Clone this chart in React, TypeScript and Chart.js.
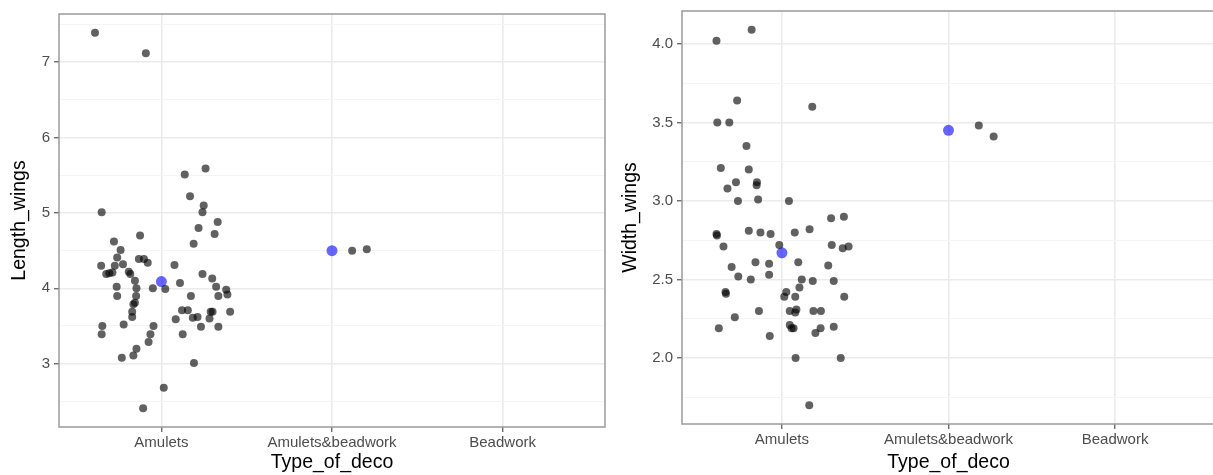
import React, { useEffect, useRef } from "react";
import { Chart, registerables } from "chart.js";

Chart.register(...registerables);

// ---------- DATA ----------
const categories = ["Amulets", "Amulets&beadwork", "Beadwork"];

// Left panel: Length_wings (jitter offset around category, value)
const lengthAmuletsJitter = [
  -0.389, -0.091, -0.35, 0.137, 0.259, 0.168, 0.248, 0.241, 0.33, 0.218, 0.312, -0.125, 0.189, -0.278,
  -0.239, -0.259, -0.132, -0.102, -0.08, -0.353, -0.273, -0.225, 0.077, -0.323, -0.305, -0.287, -0.191,
  -0.182, -0.155, 0.241, 0.298, 0.109, -0.262, -0.146, -0.05, 0.023, 0.321, 0.38, 0.387, -0.259, -0.148,
  0.173, 0.334, -0.155, -0.164, 0.403, 0.121, 0.155, 0.289, 0.3, -0.171, -0.171, 0.184, 0.212, 0.084,
  0.282, -0.221, -0.346, -0.046, 0.232, 0.334, -0.35, 0.125, -0.064, -0.075, -0.146, -0.232, -0.164,
  0.191, 0.014, -0.107,
];
const lengthAmuletsValues = [
  7.39, 7.12, 5.01, 5.51, 5.59, 5.22, 5.1, 5.01, 4.88, 4.8, 4.72, 4.7, 4.59, 4.62,
  4.51, 4.41, 4.39, 4.39, 4.34, 4.3, 4.3, 4.32, 4.31, 4.19, 4.2, 4.21, 4.22,
  4.19, 4.1, 4.19, 4.13, 4.07, 4.02, 4.0, 4.0, 3.99, 4.02, 3.98, 3.92, 3.9, 3.9,
  3.9, 3.9, 3.81, 3.79, 3.69, 3.71, 3.71, 3.69, 3.69, 3.69, 3.62, 3.61, 3.62, 3.59,
  3.6, 3.52, 3.5, 3.5, 3.49, 3.49, 3.39, 3.39, 3.39, 3.29, 3.2, 3.08, 3.11,
  3.01, 2.68, 2.41,
];
const lengthBeadworkJitter = [0.118, 0.204];
const lengthBeadworkValues = [4.5, 4.52];
const lengthMeans = [4.09, 4.5];
const lengthMajorTicks = [3, 4, 5, 6, 7];
const lengthMinorTicks = [2.5, 3.5, 4.5, 5.5, 6.5, 7.5];

// Right panel: Width_wings
const widthAmuletsJitter = [
  -0.393, -0.182, -0.269, 0.182, -0.388, -0.316, -0.213, -0.367, -0.199, -0.276, -0.15, -0.152, -0.327,
  -0.264, -0.143, 0.042, 0.295, 0.372, -0.393, -0.39, -0.199, -0.129, -0.068, 0.077, 0.166, -0.351,
  -0.016, 0.299, 0.365, 0.4, -0.302, -0.159, -0.077, 0.098, 0.278, -0.262, -0.077, -0.187, 0.119,
  0.185, 0.311, 0.105, -0.339, -0.336, 0.026, 0.014, 0.08, 0.374, -0.138, 0.047, 0.087, 0.08, 0.189,
  0.234, -0.283, 0.047, 0.058, 0.07, -0.379, 0.232, 0.201, 0.311, -0.073, 0.082, 0.353, 0.164,
];
const widthAmuletsValues = [
  4.02, 4.09, 3.64, 3.6, 3.5, 3.5, 3.35, 3.21, 3.2, 3.12, 3.12, 3.1, 3.08,
  3.0, 3.01, 3.0, 2.89, 2.9, 2.79, 2.78, 2.81, 2.8, 2.79, 2.8, 2.82, 2.71,
  2.72, 2.72, 2.7, 2.71, 2.58, 2.61, 2.6, 2.61, 2.59, 2.52, 2.53, 2.5, 2.5,
  2.49, 2.49, 2.45, 2.42, 2.41, 2.42, 2.39, 2.39, 2.39, 2.3, 2.3, 2.31, 2.29, 2.3,
  2.3, 2.26, 2.21, 2.19, 2.19, 2.19, 2.19, 2.16, 2.2, 2.14, 2.0, 2.0, 1.7,
];
const widthBeadworkJitter = [0.182, 0.271];
const widthBeadworkValues = [3.48, 3.41];
const widthMeans = [2.67, 3.45];
const widthMajorTicks = [2.0, 2.5, 3.0, 3.5, 4.0];
const widthMinorTicks = [1.75, 2.25, 2.75, 3.25, 3.75];

// ---------- STYLE ----------
const FONT = "'Liberation Sans', Arial, Helvetica, sans-serif";
const TICK_COLOR = "#4d4d4d";
const GRID_MAJOR = "#ebebeb";
const GRID_MINOR = "#f4f4f4";
const POINT_COLOR = "rgba(0,0,0,0.62)";
const MEAN_COLOR = "rgba(0,0,255,0.6)";

const panelBorder = {
  id: "panelBorder",
  afterDraw(chart: any) {
    const { ctx, chartArea } = chart;
    ctx.save();
    ctx.strokeStyle = "#9a9a9a";
    ctx.lineWidth = 1.5;
    ctx.strokeRect(chartArea.left, chartArea.top, chartArea.right - chartArea.left, chartArea.bottom - chartArea.top);
    ctx.restore();
  },
};

type PanelSpec = {
  yTitle: string;
  amJ: number[];
  amV: number[];
  bwJ: number[];
  bwV: number[];
  means: number[];
  major: number[];
  minor: number[];
  decimals: number;
  yAxisWidth: number;
  yTitlePad: number;
  xAxisHeight: number;
  padTop: number;
  padRight: number;
  xTickPad: number;
};

function buildChart(canvas: HTMLCanvasElement, s: PanelSpec) {
  const all = [...s.amV, ...s.bwV];
  const lo = Math.min(...all);
  const hi = Math.max(...all);
  const ex = (hi - lo) * 0.05;
  const isMajor = (v: number) => s.major.some((m) => Math.abs(m - v) < 1e-6);
  const yTicks = [...s.minor, ...s.major].sort((a, b) => a - b);

  const points = [
    ...s.amJ.map((j, i) => ({ x: 1 + j, y: s.amV[i] })),
    ...s.bwJ.map((j, i) => ({ x: 2 + j, y: s.bwV[i] })),
  ];
  const meanPts = s.means.map((m, i) => ({ x: i + 1, y: m }));

  return new Chart(canvas, {
    type: "scatter",
    data: {
      datasets: [
        { data: points, backgroundColor: POINT_COLOR, borderWidth: 0, pointRadius: 4, pointHoverRadius: 4 },
        { data: meanPts, backgroundColor: MEAN_COLOR, borderWidth: 0, pointRadius: 5.5, pointHoverRadius: 5.5 },
      ],
    },
    options: {
      animation: false,
      responsive: false,
      devicePixelRatio: 1,
      layout: { autoPadding: false, padding: { top: s.padTop, right: s.padRight, left: 0, bottom: 0 } },
      plugins: { legend: { display: false }, tooltip: { enabled: false } },
      scales: {
        x: {
          type: "linear",
          min: 0.4,
          max: 3.6,
          afterBuildTicks: (sc: any) => {
            sc.ticks = categories.map((_, i) => ({ value: i + 1 }));
          },
          afterFit: (sc: any) => {
            sc.height = s.xAxisHeight;
            sc.paddingLeft = 0;
            sc.paddingRight = 0;
          },
          ticks: {
            autoSkip: false,
            maxRotation: 0,
            color: TICK_COLOR,
            padding: s.xTickPad,
            font: { family: FONT, size: 15 },
            callback: (v: any) => categories[Math.round(Number(v)) - 1] ?? "",
          },
          grid: { color: GRID_MAJOR, lineWidth: 1.6, tickLength: 5, tickColor: "#333333", tickWidth: 1 },
          border: { display: false },
          title: {
            display: true,
            text: "Type_of_deco",
            color: "#000",
            font: { family: FONT, size: 19.5 },
            padding: { top: 0, bottom: 0.3 },
          },
        },
        y: {
          type: "linear",
          min: lo - ex,
          max: hi + ex,
          afterBuildTicks: (sc: any) => {
            sc.ticks = yTicks.map((v) => ({ value: v }));
          },
          afterFit: (sc: any) => {
            sc.width = s.yAxisWidth;
            sc.paddingTop = 0;
            sc.paddingBottom = 0;
          },
          ticks: {
            autoSkip: false,
            color: TICK_COLOR,
            padding: 4,
            font: { family: FONT, size: 15 },
            callback: (v: any) => (isMajor(Number(v)) ? Number(v).toFixed(s.decimals) : ""),
          },
          grid: {
            color: (c: any) => (c.tick && isMajor(c.tick.value) ? GRID_MAJOR : GRID_MINOR),
            lineWidth: (c: any) => (c.tick && isMajor(c.tick.value) ? 1.6 : 1.1),
            tickLength: 5,
            tickWidth: 1,
            tickColor: (c: any) => (c.tick && isMajor(c.tick.value) ? "#333333" : "rgba(0,0,0,0)"),
          },
          border: { display: false },
          title: {
            display: true,
            text: s.yTitle,
            color: "#000",
            font: { family: FONT, size: 19.5 },
            padding: { top: s.yTitlePad, bottom: 0 },
          },
        },
      },
    } as any,
    plugins: [panelBorder],
  });
}

export default function App() {
  const leftRef = useRef<HTMLCanvasElement>(null);
  const rightRef = useRef<HTMLCanvasElement>(null);

  useEffect(() => {
    const left = buildChart(leftRef.current!, {
      yTitle: "Length_wings",
      amJ: lengthAmuletsJitter,
      amV: lengthAmuletsValues,
      bwJ: lengthBeadworkJitter,
      bwV: lengthBeadworkValues,
      means: lengthMeans,
      major: lengthMajorTicks,
      minor: lengthMinorTicks,
      decimals: 0,
      yAxisWidth: 59,
      yTitlePad: 8.3,
      xAxisHeight: 48,
      padTop: 14,
      padRight: 1,
      xTickPad: 2,
    });
    const right = buildChart(rightRef.current!, {
      yTitle: "Width_wings",
      amJ: widthAmuletsJitter,
      amV: widthAmuletsValues,
      bwJ: widthBeadworkJitter,
      bwV: widthBeadworkValues,
      means: widthMeans,
      major: widthMajorTicks,
      minor: widthMinorTicks,
      decimals: 1,
      yAxisWidth: 76,
      yTitlePad: 13.3,
      xAxisHeight: 51,
      padTop: 11,
      padRight: 3,
      xTickPad: 2,
    });
    return () => {
      left.destroy();
      right.destroy();
    };
  }, []);

  return (
    <div
      style={{
        position: "fixed",
        left: 0,
        top: 0,
        width: 1213,
        height: 475,
        overflow: "hidden",
        background: "#ffffff",
      }}
    >
      <canvas
        ref={leftRef}
        width={606}
        height={475}
        style={{ position: "absolute", left: 0, top: 0, width: 606, height: 475 }}
      />
      <canvas
        ref={rightRef}
        width={612}
        height={475}
        style={{ position: "absolute", left: 606, top: 0, width: 612, height: 475 }}
      />
    </div>
  );
}
